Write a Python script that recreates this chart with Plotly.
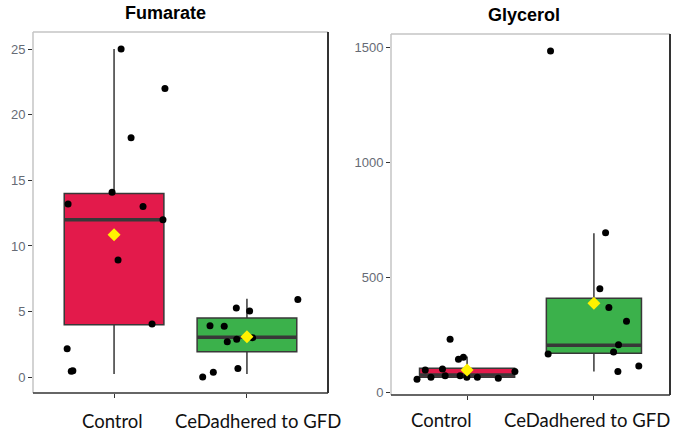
import plotly.graph_objects as go

# ---------------- data ----------------
categories = ["Control", "CeDadhered to GFD"]
cat_pos = [1, 2]

# Fumarate box statistics (Control, CeD)
fum_q1 = [4.0, 1.95]
fum_median = [12.0, 3.04]
fum_q3 = [14.0, 4.51]
fum_low = [0.25, 0.25]
fum_high = [25.0, 5.98]
fum_mean = [10.85, 3.09]

# Fumarate individual (jittered) points
fum_ctrl_y = [25.0, 22.0, 18.25, 14.1, 13.2, 13.0, 12.0, 8.93, 4.06, 2.18, 0.45, 0.5]
fum_ctrl_jit = [0.053, 0.383, 0.128, -0.015, -0.346, 0.218, 0.368, 0.030, 0.286, -0.353, -0.322, -0.310]
fum_ced_y = [3.93, 3.88, 5.27, 5.05, 5.93, 2.71, 2.89, 3.01, 0.66, 0.02, 0.38]
fum_ced_jit = [-0.278, -0.171, -0.080, 0.020, 0.383, -0.148, -0.077, 0.043, -0.068, -0.333, -0.253]

# Glycerol box statistics (Control, CeD)
gly_q1 = [65, 170]
gly_median = [75, 204]
gly_q3 = [104, 409]
gly_low = [60, 90]
gly_high = [155, 691]
gly_mean = [97, 387]

# Glycerol individual (jittered) points
gly_ctrl_y = [230, 143, 152, 97, 101, 56, 65, 72, 72, 65, 65, 61, 90]
gly_ctrl_jit = [-0.134, -0.068, -0.029, -0.330, -0.194, -0.395, -0.285, -0.173, -0.055, -0.002, 0.081, 0.246, 0.377]
gly_ced_y = [1484, 694, 450, 368, 309, 207, 175, 166, 90, 114]
gly_ced_jit = [-0.342, 0.092, 0.047, 0.118, 0.257, 0.194, 0.155, -0.361, 0.189, 0.354]

fum_ticks = [0, 5, 10, 15, 20, 25]
gly_ticks = [0, 500, 1000, 1500]

# ---------------- styling ----------------
RED = "#E31A4B"
GREEN = "#3BB14B"
FILLS = [RED, GREEN]
EDGE = "#383838"
BOXW = 0.75

fig = go.Figure()


def add_panel(xa, ya, q1, med, q3, lo, hi, mean, pts):
    for i, c in enumerate(cat_pos):
        fig.add_trace(go.Box(
            x=[c], q1=[q1[i]], median=[med[i]], q3=[q3[i]],
            lowerfence=[lo[i]], upperfence=[hi[i]],
            width=BOXW, whiskerwidth=0, boxpoints=False,
            fillcolor=FILLS[i], line=dict(color=EDGE, width=1.5),
            xaxis=xa, yaxis=ya, showlegend=False, hoverinfo="skip"))
        fig.add_trace(go.Scatter(
            x=[c - BOXW / 2, c + BOXW / 2], y=[med[i], med[i]], mode="lines",
            line=dict(color=EDGE, width=3.5), xaxis=xa, yaxis=ya,
            showlegend=False, hoverinfo="skip"))
    for (ys, jit), c in zip(pts, cat_pos):
        fig.add_trace(go.Scatter(
            x=[c + j for j in jit], y=ys, mode="markers",
            marker=dict(color="black", size=7), xaxis=xa, yaxis=ya,
            showlegend=False))
    fig.add_trace(go.Scatter(
        x=cat_pos, y=mean, mode="markers",
        marker=dict(color="#FFF200", size=10, symbol="diamond"),
        xaxis=xa, yaxis=ya, showlegend=False))


add_panel("x", "y", fum_q1, fum_median, fum_q3, fum_low, fum_high, fum_mean,
          [(fum_ctrl_y, fum_ctrl_jit), (fum_ced_y, fum_ced_jit)])
add_panel("x2", "y2", gly_q1, gly_median, gly_q3, gly_low, gly_high, gly_mean,
          [(gly_ctrl_y, gly_ctrl_jit), (gly_ced_y, gly_ced_jit)])

W, H = 674, 434
L1, R1, T1, B1 = 33, 328, 32, 393
L2, R2, T2, B2 = 391, 670, 34, 395

tickfont = dict(family="Liberation Sans, Arial, sans-serif", size=13, color="#666b75")

xcommon = dict(tickmode="array", tickvals=cat_pos, ticktext=["", ""], ticks="outside",
               ticklen=4, tickcolor="#333", showgrid=False, zeroline=False,
               showline=False, fixedrange=True, automargin=False)
ycommon = dict(tickmode="array", ticks="outside", ticklen=4, tickcolor="#333",
               showgrid=False, zeroline=False, showline=False, tickfont=tickfont,
               automargin=False)

fig.update_layout(
    width=W, height=H, margin=dict(l=0, r=0, t=0, b=0, pad=0),
    paper_bgcolor="white", plot_bgcolor="white",
    xaxis=dict(domain=[L1 / W, R1 / W], range=[0.39, 2.61], anchor="y", **xcommon),
    yaxis=dict(domain=[1 - B1 / H, 1 - T1 / H], range=[-1.2, 26.3], anchor="x",
               tickvals=fum_ticks, **ycommon),
    xaxis2=dict(domain=[L2 / W, R2 / W], range=[0.4, 2.6], anchor="y2", **xcommon),
    yaxis2=dict(domain=[1 - B2 / H, 1 - T2 / H], range=[-12, 1558], anchor="x2",
                tickvals=gly_ticks, **ycommon),
)

shapes = []
for (xa, ya) in [("x", "y"), ("x2", "y2")]:
    xd, yd = xa + " domain", ya + " domain"
    shapes += [
        dict(type="line", xref=xd, yref=yd, x0=0, x1=1, y0=1, y1=1, line=dict(color="#c4c4c4", width=1.5)),
        dict(type="line", xref=xd, yref=yd, x0=0, x1=0, y0=0, y1=1, line=dict(color="#c4c4c4", width=1.5)),
        dict(type="line", xref=xd, yref=yd, x0=1, x1=1, y0=0, y1=1, line=dict(color="#333", width=2)),
        dict(type="line", xref=xd, yref=yd, x0=0, x1=1, y0=0, y1=0, line=dict(color="#333", width=1.5)),
    ]
fig.update_layout(shapes=shapes)

titlefont = dict(family="Liberation Sans, Arial, sans-serif", size=18, color="black")
labfont = dict(family="Lato, Open Sans, sans-serif", size=18.5, color="#111")
ann = [
    dict(text="<b>Fumarate</b>", x=165.5 / W, y=1 - 13 / H, font=titlefont),
    dict(text="<b>Glycerol</b>", x=524 / W, y=1 - 15 / H, font=titlefont),
    dict(text=categories[0], x=112.5 / W, y=1 - 421 / H, font=labfont),
    dict(text=categories[1], x=258 / W, y=1 - 421 / H, font=labfont),
    dict(text=categories[0], x=441 / W, y=1 - 420 / H, font=labfont),
    dict(text=categories[1], x=587 / W, y=1 - 420 / H, font=labfont),
]
for a in ann:
    a.update(xref="paper", yref="paper", showarrow=False, xanchor="center", yanchor="middle")
fig.update_layout(annotations=ann)

fig.write_html(
    "out.html",
    config={"displayModeBar": False},
    post_script="document.body.style.margin='0px';document.body.style.overflow='hidden';",
)
